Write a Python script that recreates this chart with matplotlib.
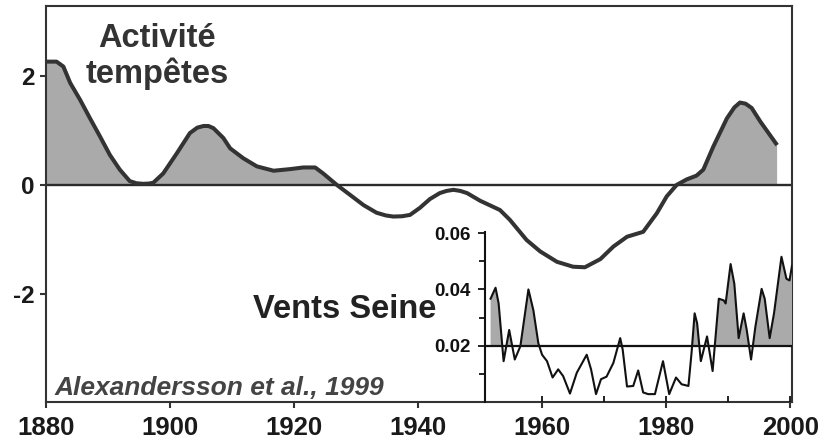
import matplotlib
matplotlib.use("Agg")
import matplotlib.pyplot as plt
import numpy as np

# Main series: storm activity index (Alexandersson et al., 1999)
storm_years = [1880.1, 1881.7, 1882.8, 1883.9, 1885.5, 1887.1, 1888.7, 1890.3, 1891.9, 1893.5,
               1894.6, 1895.7, 1896.6, 1897.3, 1898.9, 1901.1, 1903.2, 1904.4, 1905.4, 1906.2,
               1907.0, 1908.6, 1909.7, 1911.8,
               1914.0, 1916.7, 1919.4, 1921.5, 1923.4, 1924.7, 1926.9, 1929.0, 1931.2, 1933.3,
               1934.8, 1936.0, 1937.4, 1938.7, 1940.3, 1941.9, 1943.5, 1944.6, 1945.7, 1946.8,
               1947.9, 1950.0, 1953.2, 1954.8,
               1957.5, 1959.7, 1962.4, 1965.0, 1966.9, 1969.4, 1971.5, 1973.7, 1976.3, 1978.5,
               1980.1, 1981.7, 1983.3, 1984.9, 1986.0, 1987.6, 1989.8, 1991.0, 1991.9, 1992.8,
               1993.8, 1995.2, 1997.9]
storm_values = [2.26, 2.26, 2.17, 1.87, 1.56, 1.22, 0.89, 0.55, 0.28, 0.07,
                0.03, 0.02, 0.025, 0.04, 0.21, 0.58, 0.95, 1.05, 1.08, 1.08,
                1.04, 0.86, 0.67, 0.49,
                0.34, 0.26, 0.29, 0.32, 0.32, 0.21, 0.00, -0.18, -0.37, -0.51,
                -0.56, -0.58, -0.575, -0.55, -0.42, -0.26, -0.15, -0.11, -0.09, -0.11,
                -0.15, -0.29, -0.46, -0.64,
                -1.01, -1.22, -1.41, -1.50, -1.51, -1.36, -1.13, -0.95, -0.86, -0.52,
                -0.21, 0.00, 0.10, 0.17, 0.28, 0.70, 1.22, 1.42, 1.51, 1.49,
                1.41, 1.16, 0.73]

# Inset series: Seine winds
wind_years = [1951.7, 1952.5, 1953.0, 1953.8, 1954.7, 1955.6, 1956.5, 1957.8, 1958.6, 1959.4,
              1960.0, 1960.8, 1961.7, 1962.6, 1963.4, 1964.5, 1965.6, 1967.2, 1967.9, 1968.7,
              1969.5, 1970.4, 1971.5, 1972.6, 1973.0, 1973.7, 1974.7, 1975.5, 1976.3, 1977.1,
              1978.2, 1979.5, 1980.5, 1981.6, 1982.5, 1983.6, 1984.1, 1984.6, 1985.0, 1985.6,
              1986.6, 1987.5, 1988.5, 1989.3, 1989.6, 1990.4, 1991.0, 1991.7, 1992.5, 1993.0,
              1993.7, 1994.4, 1995.4, 1995.9, 1996.7, 1997.4, 1998.6, 1999.4, 1999.9, 2000.3]
wind_values = [0.0367, 0.0406, 0.0350, 0.0145, 0.0256, 0.0151, 0.0198, 0.0400, 0.0326, 0.0209,
               0.0168, 0.0145, 0.0087, 0.0116, 0.0092, 0.0030, 0.0104, 0.0168, 0.0116, 0.0028,
               0.0081, 0.0090, 0.0139, 0.0227, 0.0186, 0.0055, 0.0057, 0.0112, 0.0034, 0.0028,
               0.0028, 0.0145, 0.0028, 0.0087, 0.0063, 0.0057, 0.0174, 0.0315, 0.0280, 0.0145,
               0.0233, 0.0110, 0.0367, 0.0361, 0.0350, 0.0490, 0.0420, 0.0227, 0.0315, 0.0256,
               0.0151, 0.0268, 0.0402, 0.0367, 0.0227, 0.0315, 0.0516, 0.0438, 0.0432, 0.0484]

main_xticks = [1880, 1900, 1920, 1940, 1960, 1980, 2000]
main_yticks = [-2, 0, 2]
inset_yticks = [0.02, 0.04, 0.06]
inset_yminor = [0.01, 0.03, 0.05]
inset_xticks = [1960, 1970, 1980, 1990, 2000]
wind_threshold = 0.02

plt.rcParams['font.family'] = ['Liberation Sans', 'DejaVu Sans']
W, H = 825, 441
fig = plt.figure(figsize=(W / 100, H / 100), dpi=100)

def fx(px):
    return px / W

def fy(py):
    return 1 - py / H

dark = '#333333'
fillc = '#aaaaaa'

ax = fig.add_axes([fx(46), fy(402), (792 - 46) / W, (402 - 6) / H])
ax.set_xlim(1880, 2000.3)
ax.set_ylim(-3.98, 3.28)

sx = np.array(storm_years)
sy = np.array(storm_values)
ax.fill_between(sx, sy, 0, where=sy >= 0, interpolate=True, color=fillc, lw=0, zorder=1)
ax.axhline(0, color='#2a2a2a', lw=1.7, zorder=2)
ax.plot(sx, sy, color=dark, lw=2.9, solid_joinstyle='round', solid_capstyle='butt', zorder=3)

ax.set_xticks(main_xticks)
ax.set_xticklabels([str(t) for t in main_xticks])
ax.set_yticks(main_yticks)
ax.set_yticklabels([str(t) for t in main_yticks])
ax.tick_params(axis='x', direction='out', length=4, width=1.5, color=dark, labelsize=18.5,
               pad=6, labelcolor='#1a1a1a')
ax.tick_params(axis='y', direction='out', length=4, width=1.5, color=dark, labelsize=17.5,
               pad=4, labelcolor='#1a1a1a')
for lab in ax.get_xticklabels() + ax.get_yticklabels():
    lab.set_fontweight('bold')
for s in ax.spines.values():
    s.set_color(dark)
    s.set_linewidth(1.5)

# Inset
ai = fig.add_axes([fx(485), fy(402), (792 - 485) / W, (402 - 232) / H])
ai.patch.set_alpha(0)
ai.set_xlim(1950.8, 2000.3)
ai.set_ylim(0.0, 0.0604)
wx = np.array(wind_years)
wy = np.array(wind_values)
ai.fill_between(wx, wy, wind_threshold, where=wy >= wind_threshold, interpolate=True,
                color=fillc, lw=0, zorder=1)
ai.axhline(wind_threshold, color='#111111', lw=1.6, zorder=2)
ai.plot(wx, wy, color='#111111', lw=1.5, solid_joinstyle='round', zorder=3, clip_on=True)
for k in ['top', 'right', 'bottom']:
    ai.spines[k].set_visible(False)
ai.spines['left'].set_color('#111111')
ai.spines['left'].set_linewidth(1.5)
ai.set_yticks(inset_yticks)
ai.set_yticklabels(['%.2f' % v for v in inset_yticks])
ai.set_yticks(inset_yminor, minor=True)
ai.set_xticks(inset_xticks)
ai.set_xticklabels([])
ai.tick_params(axis='y', which='major', direction='out', length=5, width=1.3, labelsize=13.5,
               pad=5, color='#111111', labelcolor='#111111')
ai.tick_params(axis='y', which='minor', direction='out', length=4, width=1.3, color='#111111')
ai.tick_params(axis='x', direction='in', length=4, width=1.3, color='#111111')
for lab in ai.get_yticklabels():
    lab.set_fontweight('bold')

# Texts
fig.text(fx(157), fy(47), 'Activité', ha='center', va='baseline', fontsize=23.5,
         fontweight='bold', color=dark)
fig.text(fx(157), fy(83), 'tempêtes', ha='center', va='baseline', fontsize=23.5,
         fontweight='bold', color=dark)
fig.text(fx(436), fy(318), 'Vents Seine', ha='right', va='baseline', fontsize=23.5,
         fontweight='bold', color='#222222')
fig.text(fx(55), fy(395), 'Alexandersson et al., 1999', ha='left', va='baseline', fontsize=19,
         fontweight='bold', fontstyle='italic', color='#444444')

fig.savefig('out.png', dpi=100)
